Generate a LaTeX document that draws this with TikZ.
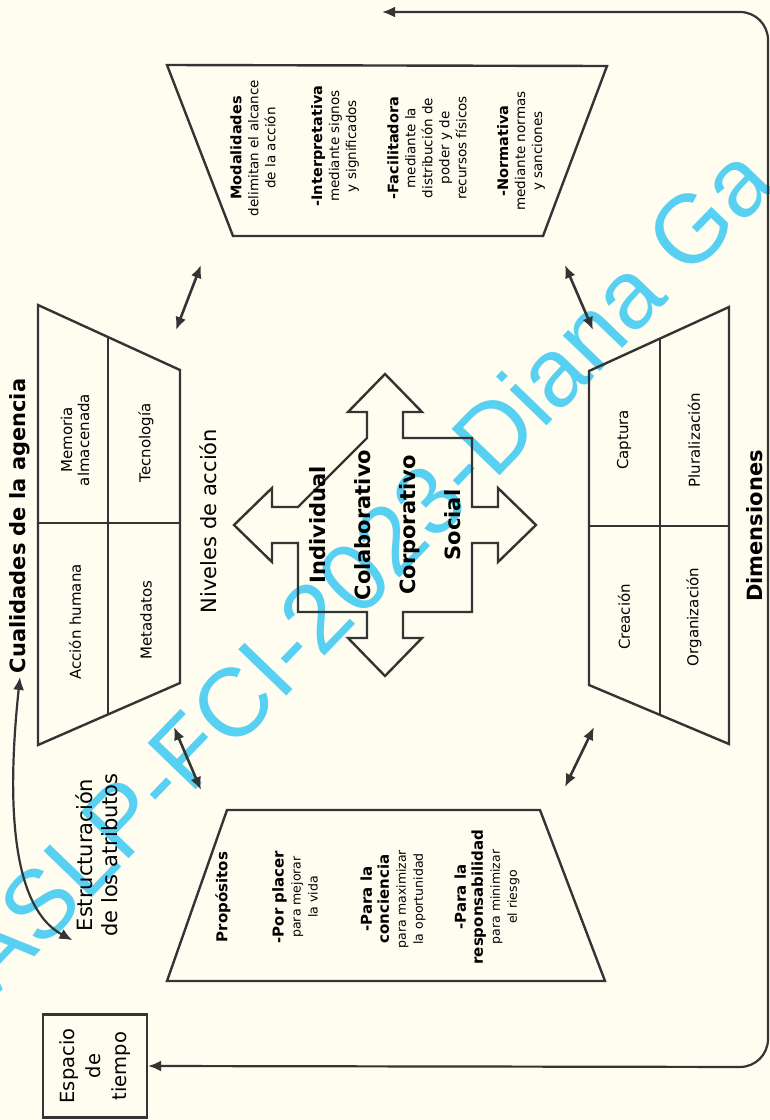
\documentclass[tikz,border=0pt]{standalone}
\usepackage{fontspec}
\setmainfont{DejaVu Sans}
\newfontfamily\wmfont{Liberation Sans}
\usepackage{tikz}
\usetikzlibrary{arrows.meta}

\definecolor{paper}{RGB}{254,253,240}
\definecolor{ink}{RGB}{52,52,52}
\definecolor{wmcyan}{RGB}{88,208,242}

\newcommand{\mhd}[1]{{\fontsize{14.5}{17}\selectfont\bfseries #1}}
\newcommand{\phd}[1]{{\fontsize{15}{17}\selectfont\bfseries #1}}

\begin{document}
\begin{tikzpicture}[>={Latex[length=13pt,width=11pt]}, x=1pt, y=-1pt]
    \tikzstyle{trapline} = [draw=ink, line width=2.4pt, line join=miter];
    \tikzstyle{dbl} = [<->, draw=ink, line width=2.6pt];
    \tikzstyle{vtext} = [rotate=90, align=center, text=black];
    \tikzstyle{cell} = [vtext, font=\fontsize{15}{17}\selectfont];
    \tikzstyle{modo} = [vtext, font=\fontsize{13.5}{17}\selectfont];
    \tikzstyle{prop} = [vtext, font=\fontsize{12.5}{17}\selectfont];
    \tikzstyle{heading} = [vtext, font=\fontsize{21}{25}\selectfont];
    \tikzstyle{wm} = [text=wmcyan, font=\wmfont\fontsize{97}{97}\selectfont];

    % Page
    \useasboundingbox (0,0) rectangle (770,1120);
    \fill[paper] (0,0) rectangle (770,1120);
    \node[wm, rotate=46, anchor=base west, inner sep=0] (mark) at (-4,997) {ASLP-FCI-2023-Diana Ga};

    % Modalidades (top)
    \draw[trapline] (167,65) -- (607,66) -- (543,236) -- (233,236) -- cycle;
    \node[modo] (modal) at (253,148) {\mhd{Modalidades}\\delimitan el alcance\\de la acción};
    \node[modo] (interp) at (335,146) {\mhd{-Interpretativa}\\mediante signos\\y significados};
    \node[modo] (facil) at (427,148) {\mhd{-Facilitadora}\\mediante la\\distribución de\\poder y de\\recursos físicos};
    \node[modo] (norma) at (521,151) {\mhd{-Normativa}\\mediante normas\\y sanciones};

    % Cualidades de la agencia (left)
    \draw[trapline] (38,305) -- (180,370) -- (180,683) -- (38,745) -- cycle;
    \draw[trapline] (108,337) -- (108,714);
    \draw[trapline] (38,523) -- (180,523);
    \node[cell] (memoria) at (75,440) {Memoria\\almacenada};
    \node[cell] (accion) at (75,622) {Acción humana};
    \node[cell] (tecno) at (146,443) {Tecnología};
    \node[cell] (meta) at (146,620) {Metadatos};
    \node[heading, font=\fontsize{21}{25}\selectfont\bfseries] (cual) at (20,526) {Cualidades de la agencia};

    % Dimensiones (right)
    \draw[trapline] (589,371) -- (729,307) -- (729,744) -- (589,685) -- cycle;
    \draw[trapline] (660,338) -- (660,715);
    \draw[trapline] (589,526) -- (729,526);
    \node[cell] (captura) at (624,440) {Captura};
    \node[cell] (plural) at (694,440) {Pluralización};
    \node[cell] (creacion) at (624,617) {Creación};
    \node[cell] (organ) at (694,617) {Organización};
    \node[heading, font=\fontsize{21}{25}\selectfont\bfseries] (dim) at (755,526) {Dimensiones};

    % Propositos (bottom)
    \draw[trapline] (227,810) -- (540,810) -- (605,981) -- (167,981) -- cycle;
    \node[vtext, font=\fontsize{15}{17}\selectfont\bfseries] (propo) at (223,897) {Propósitos};
    \node[prop] (placer) at (295,897) {\phd{-Por placer}\\para mejorar\\la vida};
    \node[prop] (concien) at (393,899) {\phd{-Para la}\\\phd{conciencia}\\para maximizar\\la oportunidad};
    \node[prop] (respon) at (487,897) {\phd{-Para la}\\\phd{responsabilidad}\\para minimizar\\el riesgo};

    % Niveles de accion (cross)
    \begin{scope}[shift={(385,525)}]
        \draw[trapline] (-18,-87) -- (-18,-113) -- (-37,-113) -- (0,-151) -- (37,-113) -- (18,-113) -- (18,-87)
            -- (87,-87) -- (87,-18) -- (113,-18) -- (113,-37) -- (151,0) -- (113,37) -- (113,18) -- (87,18)
            -- (87,87) -- (18,87) -- (18,113) -- (37,113) -- (0,151) -- (-37,113) -- (-18,113) -- (-18,87)
            -- (-87,87) -- (-87,18) -- (-113,18) -- (-113,37) -- (-151,0) -- (-113,-37) -- (-113,-18) -- (-87,-18)
            -- cycle;
    \end{scope}
    \node[vtext, font=\fontsize{21}{45}\selectfont\bfseries] (niveles) at (385,525) {Individual\\Colaborativo\\Corporativo\\Social};
    \node[heading] (nivtitle) at (208,521) {Niveles de acción};

    % Estructuracion, Espacio de tiempo
    \node[heading] (estr) at (97,855) {Estructuración\\de los atributos};
    \node[draw=ink, line width=2.2pt, rotate=90, align=center, minimum width=103pt, minimum height=104pt,
          font=\fontsize{19.5}{26}\selectfont] (espacio) at (95,1066) {Espacio\\de\\tiempo};
    \coordinate (topend) at (382,12);

    % Connectors
    \draw[dbl] (201,265) -- (176,330);
    \draw[dbl] (565,265) -- (593,330);
    \draw[dbl] (174,727) -- (201,790);
    \draw[dbl] (594,727) -- (565,787);
    \draw[<->, draw=ink, line width=2.2pt] (cual.west) .. controls (8,790) and (8,905) .. (estr.north west);
    \draw[<->, draw=ink, line width=2.2pt, rounded corners=28pt] (topend) -- (768,12) -- (768,1067) -- (espacio.south);
\end{tikzpicture}
\end{document}
